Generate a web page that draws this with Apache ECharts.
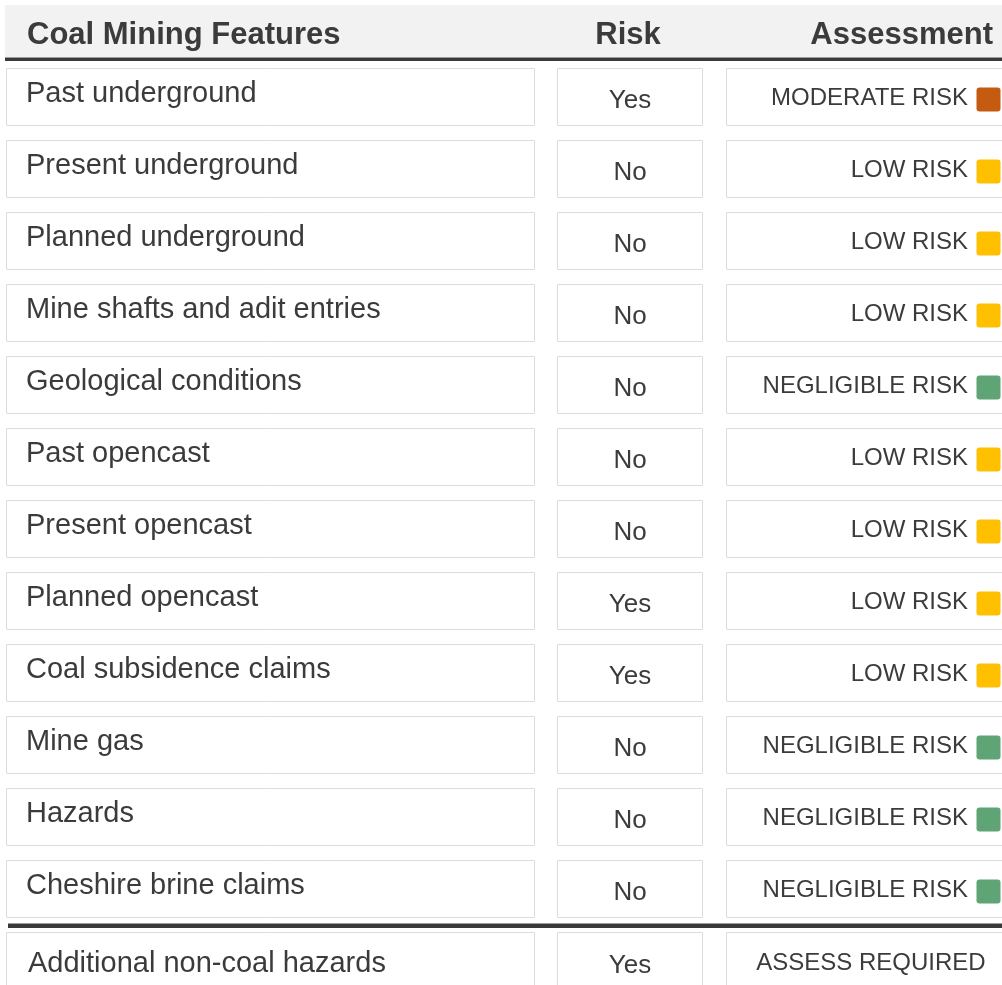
<!DOCTYPE html>
<html>
<head>
<meta charset="utf-8">
<script src="https://cdn.jsdelivr.net/npm/echarts@6/dist/echarts.min.js"></script>
<style>
html,body{margin:0;padding:0;background:#fff;}
#chart{width:1002px;height:985px;}
</style>
</head>
<body>
<div id="chart"></div>
<script>
// ---- data ----
var columnHeaders = ['Coal Mining Features', 'Risk', 'Assessment'];
var features = [
  'Past underground',
  'Present underground',
  'Planned underground',
  'Mine shafts and adit entries',
  'Geological conditions',
  'Past opencast',
  'Present opencast',
  'Planned opencast',
  'Coal subsidence claims',
  'Mine gas',
  'Hazards',
  'Cheshire brine claims',
  'Additional non-coal hazards'
];
var risk = ['Yes','No','No','No','No','No','No','Yes','Yes','No','No','No','Yes'];
var assessment = [
  'MODERATE RISK','LOW RISK','LOW RISK','LOW RISK','NEGLIGIBLE RISK','LOW RISK',
  'LOW RISK','LOW RISK','LOW RISK','NEGLIGIBLE RISK','NEGLIGIBLE RISK','NEGLIGIBLE RISK',
  'ASSESS REQUIRED'
];
var levelColors = {
  'MODERATE RISK': '#c55a11',
  'LOW RISK': '#ffc000',
  'NEGLIGIBLE RISK': '#5ea474'
};

// ---- chart ----
var chart = echarts.init(document.getElementById('chart'), null, {renderer: 'canvas'});
var FONT = '"Liberation Sans", Arial, Helvetica, sans-serif';
var TXT = '#3b3b3b';
var BORDER = '#dcdcdc';
var GRID_TOP = 60.5, ROW_H = 72, CHART_H = 985;

function renderItem(params, api) {
  var idx = api.value(1);
  var cy = api.coord([0, idx])[1];
  var bt = cy - 28.5;
  var h = 57;
  var last = idx === features.length - 1;
  var children = [
    {type: 'rect', shape: {x: 6.5, y: bt + 0.5, width: 528, height: h}, style: {fill: '#fff', stroke: BORDER, lineWidth: 1}},
    {type: 'rect', shape: {x: 557.5, y: bt + 0.5, width: 145, height: h}, style: {fill: '#fff', stroke: BORDER, lineWidth: 1}},
    {type: 'rect', shape: {x: 726.5, y: bt + 0.5, width: 300, height: h}, style: {fill: '#fff', stroke: BORDER, lineWidth: 1}},
    {type: 'text', x: last ? 28 : 26, y: last ? cy + 3.5 : cy - 3, style: {text: features[idx], fill: TXT, font: '29px ' + FONT, textAlign: 'left', textVerticalAlign: 'middle'}},
    {type: 'text', x: 630, y: last ? cy + 5.5 : cy + 4.5, style: {text: risk[idx], fill: TXT, font: '26px ' + FONT, textAlign: 'center', textVerticalAlign: 'middle'}}
  ];
  var a = assessment[idx];
  var col = levelColors[a];
  if (col) {
    children.push({type: 'text', x: 968, y: cy + 2, style: {text: a, fill: TXT, font: '24px ' + FONT, textAlign: 'right', textVerticalAlign: 'middle'}});
    children.push({type: 'rect', shape: {x: 976.5, y: cy + 3 - 12, width: 24, height: 24, r: 3}, style: {fill: col}});
  } else {
    children.push({type: 'text', x: 871, y: cy + 2.5, style: {text: a, fill: TXT, font: '24px ' + FONT, textAlign: 'center', textVerticalAlign: 'middle'}});
  }
  if (last) {
    children.push({type: 'rect', shape: {x: 8, y: bt - 8.5, width: 1000, height: 4.5}, style: {fill: '#3a3a3a'}});
  }
  return {type: 'group', children: children};
}

var option = {
  animation: false,
  backgroundColor: '#ffffff',
  grid: {left: 0, right: 0, top: GRID_TOP, bottom: 0},
  xAxis: {type: 'value', min: 0, max: 1002, show: false},
  yAxis: {type: 'value', inverse: true, min: -0.5, max: -0.5 + (CHART_H - GRID_TOP) / ROW_H, show: false},
  graphic: [
    {type: 'rect', shape: {x: 5, y: 5, width: 1000, height: 52}, style: {fill: '#f2f2f2'}, z: 1},
    {type: 'rect', shape: {x: 5, y: 57.5, width: 1000, height: 3.5}, style: {fill: '#3a3a3a'}, z: 1},
    {type: 'text', x: 27, y: 35, style: {text: columnHeaders[0], fill: TXT, font: 'bold 31px ' + FONT, textAlign: 'left', textVerticalAlign: 'middle'}, z: 2},
    {type: 'text', x: 628, y: 35, style: {text: columnHeaders[1], fill: TXT, font: 'bold 31px ' + FONT, textAlign: 'center', textVerticalAlign: 'middle'}, z: 2},
    {type: 'text', x: 993, y: 35, style: {text: columnHeaders[2], fill: TXT, font: 'bold 31px ' + FONT, textAlign: 'right', textVerticalAlign: 'middle'}, z: 2}
  ],
  series: [{
    type: 'custom',
    renderItem: renderItem,
    clip: false,
    encode: {x: 0, y: 1},
    data: features.map(function (f, i) { return [0, i]; })
  }]
};
chart.setOption(option);
</script>
</body>
</html>
